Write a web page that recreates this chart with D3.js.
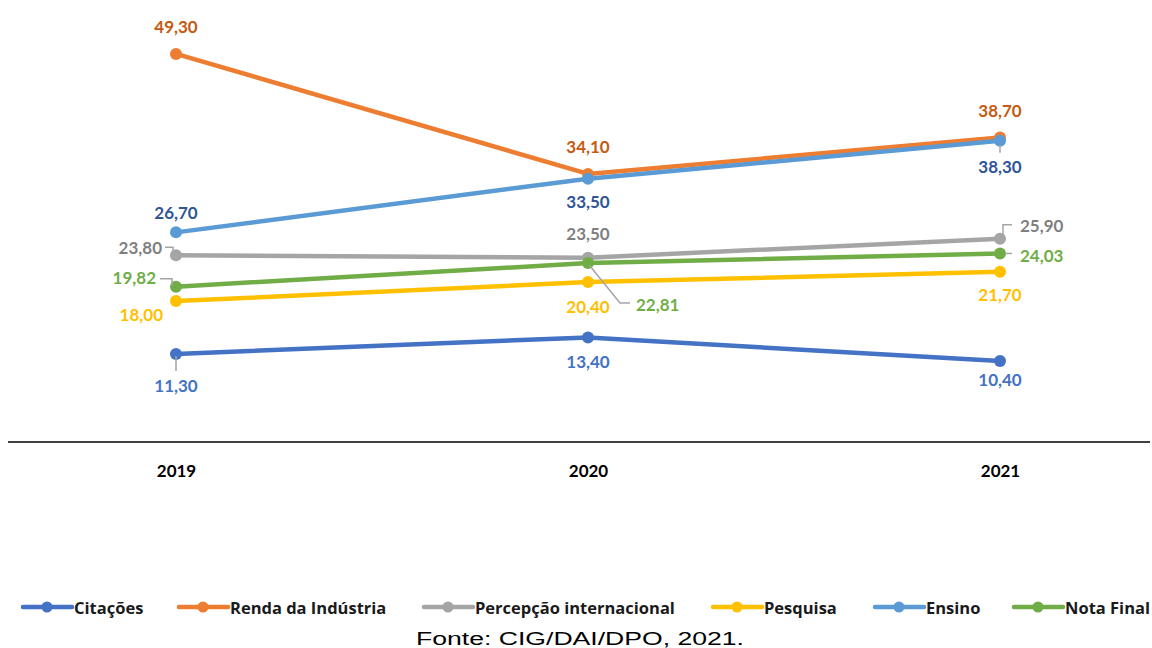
<!DOCTYPE html>
<html><head><meta charset="utf-8">
<script src="https://cdn.jsdelivr.net/npm/d3@7"></script>
<style>
html,body{margin:0;padding:0;background:#fff;}
svg{display:block;}
</style></head>
<body><svg id="c" width="1152" height="648"></svg>
<script>
const years = ["2019", "2020", "2021"];
const seriesNames = ["Citações", "Renda da Indústria", "Percepção internacional", "Pesquisa", "Ensino", "Nota Final"];
const citacoes = [11.30, 13.40, 10.40];
const renda = [49.30, 34.10, 38.70];
const percepcao = [23.80, 23.50, 25.90];
const pesquisa = [18.00, 20.40, 21.70];
const ensino = [26.70, 33.50, 38.30];
const notaFinal = [19.82, 22.81, 24.03];
const sourceText = "Fonte: CIG/DAI/DPO, 2021.";

const values = [citacoes, renda, percepcao, pesquisa, ensino, notaFinal];
const lineColors = ["#4472C4", "#ED7D31", "#A5A5A5", "#FFC000", "#5B9BD5", "#70AD47"];
const labelColors = ["#4472C4", "#C55A11", "#7F7F7F", "#FFC000", "#2F5597", "#70AD47"];

// label placement: [dx, dy, anchor, leader points relative to data point or null]
const placement = [
  [[0, 32, "middle", [[0,2],[0,17]]], [0, 24, "middle", null], [0, 18, "middle", null]],
  [[0, -27, "middle", null], [0, -27, "middle", null], [0, -27, "middle", null]],
  [[-14, -8, "end", [[-3,-3],[-3,-8],[-11,-8]]], [0, -24, "middle", null], [20, -13, "start", [[3,-3],[3,-14],[12,-14]]]],
  [[-13, 13, "end", null], [0, 24, "middle", null], [0, 23, "middle", null]],
  [[0, -20, "middle", null], [0, 23, "middle", null], [0, 26, "middle", [[0,4],[0,12]]]],
  [[-20, -9, "end", [[-4,-1],[-4,-8],[-16,-8]]], [48, 41, "start", [[2,3],[32,40],[42,40]]], [20, 2, "start", [[5,0],[12,0]]]]
];
const legendLineX = [23, 179, 424, 713, 875, 1014];

const svg = d3.select("#c");
const x = d3.scalePoint().domain(years).range([176, 1000]).padding(0);
const y = d3.scaleLinear().domain([0, 56]).range([443.2, 1]);

// axis
const xAxis = d3.axisBottom(x).tickSize(0).tickPadding(0);
const ax = svg.append("g").attr("transform", "translate(0,442)").call(xAxis);
ax.select(".domain").remove();
svg.append("line").attr("x1", 8).attr("x2", 1150).attr("y1", 442).attr("y2", 442)
  .attr("stroke", "#000").attr("stroke-width", 1.5);
ax.selectAll("text").attr("dy", 0).attr("y", 35)
  .attr("font-family", "Lato, 'Open Sans', sans-serif").attr("font-weight", "bold")
  .attr("font-size", "17px").attr("fill", "#000");

const line = d3.line().x((d, i) => x(years[i])).y(d => y(d));

values.forEach((vals, s) => {
  const g = svg.append("g");
  g.append("path").datum(vals).attr("d", line).attr("fill", "none")
    .attr("stroke", lineColors[s]).attr("stroke-width", 4.5).attr("stroke-linecap", "round").attr("stroke-linejoin", "round");
  g.selectAll("circle").data(vals).join("circle")
    .attr("cx", (d, i) => x(years[i])).attr("cy", d => y(d)).attr("r", 6)
    .attr("fill", lineColors[s]);
});

// labels
values.forEach((vals, s) => {
  vals.forEach((v, i) => {
    const px = x(years[i]), py = y(v);
    const [dx, dy, anchor, leader] = placement[s][i];
    if (leader) {
      svg.append("polyline")
        .attr("points", leader.map(p => (px + p[0]) + "," + (py + p[1])).join(" "))
        .attr("fill", "none").attr("stroke", "#A5A5A5").attr("stroke-width", 1.5);
    }
    svg.append("text").attr("x", px + dx).attr("y", py + dy)
      .attr("text-anchor", anchor).attr("dominant-baseline", "central")
      .attr("font-family", "Lato, 'Open Sans', sans-serif").attr("font-weight", "bold")
      .attr("font-size", "17px").attr("fill", labelColors[s])
      .text(d3.format(".2f")(v).replace(".", ","));
  });
});

// legend
const lg = svg.append("g").attr("transform", "translate(0,607)");
seriesNames.forEach((name, s) => {
  const g = lg.append("g").attr("transform", `translate(${legendLineX[s]},0)`);
  g.append("line").attr("x1", 0).attr("x2", 49).attr("y1", 0).attr("y2", 0)
    .attr("stroke", lineColors[s]).attr("stroke-width", 4.5).attr("stroke-linecap", "round");
  g.append("circle").attr("cx", 24).attr("cy", 0).attr("r", 5.5).attr("fill", lineColors[s]);
  g.append("text").attr("x", 51).attr("y", 0).attr("dominant-baseline", "central")
    .attr("font-family", "'Open Sans', Lato, sans-serif").attr("font-weight", 700)
    .attr("font-size", "16.5px").attr("fill", "#1a1a1a").text(name);
});

svg.append("text").attr("x", 416).attr("y", 645).attr("text-anchor", "start")
  .attr("font-family", "'Liberation Sans', Arial, sans-serif").attr("font-size", "18px")
  .attr("textLength", 328).attr("lengthAdjust", "spacingAndGlyphs")
  .attr("fill", "#000").text(sourceText);
</script>
</body></html>
